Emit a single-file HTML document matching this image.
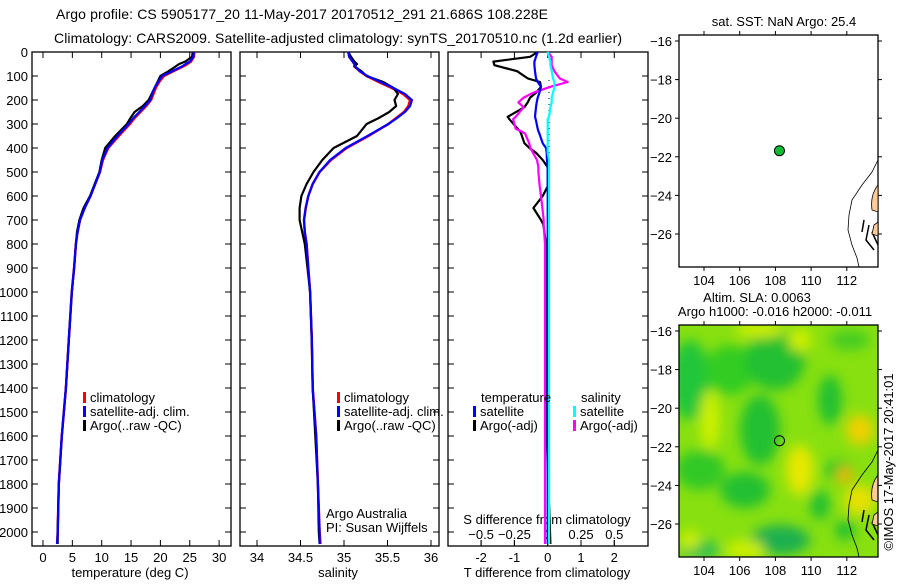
<!DOCTYPE html>
<html><head><meta charset="utf-8"><style>
body{margin:0;background:#fff}
svg{font-family:"Liberation Sans",sans-serif;font-size:13px}
</style></head><body>
<svg id="c" width="900" height="580" viewBox="0 0 900 580">
<defs>
<filter id="blur" x="-50%" y="-50%" width="200%" height="200%"><feGaussianBlur stdDeviation="6"/></filter>
<clipPath id="mclip"><rect x="679" y="325" width="199" height="232"/></clipPath>
</defs>
<text x="56" y="19" textLength="492" style="font-size:14px">Argo profile: CS 5905177_20 11-May-2017 20170512_291 21.686S 108.228E</text>
<text x="54" y="43" textLength="568" style="font-size:14px">Climatology: CARS2009. Satellite-adjusted climatology: synTS_20170510.nc (1.2d earlier)</text>
<g id="g"></g>
</svg>
<script>
// depth grid (m)
const depths=[0,20,40,50,60,80,100,125,150,175,200,225,250,275,300,350,400,450,500,550,600,650,700,750,800,900,1000,1200,1400,1600,1800,2000,2050];
const tempClim=[25.8,25.7,25.2,24.6,23.9,22.2,20.6,19.8,19.2,18.8,18.4,17.6,16.6,15.6,14.8,12.9,11.1,10.2,9.7,8.9,8.1,7.1,6.3,5.9,5.6,5.3,4.9,4.4,3.9,3.2,2.7,2.5,2.4];
const tempSat=[25.7,25.6,25.0,24.3,23.7,22.0,20.3,19.6,19.0,18.6,18.3,17.4,16.4,15.4,14.6,12.7,11.0,10.1,9.7,8.9,8.1,7.1,6.3,5.9,5.6,5.3,4.9,4.4,3.9,3.2,2.7,2.5,2.4];
const tempArgo=[25.5,25.4,24.2,23.2,22.6,21.4,20.0,19.5,19.0,18.5,18.0,17.0,15.6,14.9,14.3,12.3,10.6,10.0,9.6,8.8,8.0,6.9,6.2,5.8,5.6,5.3,4.9,4.4,3.9,3.2,2.7,2.5,2.5];
const salClim=[35.05,35.06,35.10,35.12,35.12,35.18,35.26,35.40,35.55,35.68,35.76,35.74,35.69,35.60,35.51,35.28,35.03,34.85,34.72,34.64,34.59,34.56,34.54,34.55,34.57,34.59,34.61,34.63,34.64,34.68,34.70,34.72,34.73];
const salSat=[35.05,35.06,35.10,35.12,35.13,35.18,35.27,35.42,35.57,35.70,35.78,35.76,35.70,35.61,35.51,35.27,35.02,34.84,34.72,34.64,34.59,34.56,34.54,34.55,34.57,34.59,34.61,34.63,34.64,34.68,34.70,34.72,34.72];
const salArgo=[35.05,35.08,35.12,35.15,35.12,35.20,35.26,35.45,35.57,35.62,35.58,35.60,35.52,35.40,35.26,35.15,34.88,34.75,34.65,34.57,34.51,34.49,34.49,34.52,34.55,34.58,34.61,34.63,34.64,34.67,34.70,34.71,34.72];
const diffDepths=[0,20,40,55,80,110,125,145,170,190,210,230,270,280,320,330,340,380,400,420,450,480,500,560,600,650,700,720,800,1000,1500,2050];
const tDiffArgo=[-0.3,-0.53,-1.63,-1.6,-0.92,-0.6,-0.23,-0.2,-0.35,-0.53,-0.6,-0.7,-1.2,-1.15,-0.9,-0.83,-0.8,-0.7,-0.55,-0.35,-0.15,0,0,0,-0.15,-0.43,-0.2,-0.13,-0.05,-0.03,-0.05,0.08];
const tDiffSat=[-0.3,-0.35,-0.4,-0.4,-0.38,-0.35,-0.3,-0.2,-0.25,-0.3,-0.33,-0.35,-0.38,-0.36,-0.3,-0.28,-0.25,-0.15,-0.05,-0.03,-0.02,0,0,0,0,0,0,0,0,0,0,0];
const sDiffArgo=[0,0.03,0.03,0.03,0.05,0.09,0.15,0.02,-0.11,-0.18,-0.22,-0.18,-0.24,-0.26,-0.24,-0.2,-0.17,-0.14,-0.13,-0.11,-0.08,-0.07,-0.07,-0.06,-0.05,-0.04,-0.03,-0.03,-0.02,-0.02,-0.02,-0.02];
const sDiffSat=[0,0.01,0.02,0.02,0.03,0.04,0.05,0.05,0.04,0.03,0.03,0.02,0.01,0,0,0,0,0,0,0,0.01,0.01,0.01,0.01,0.01,0.01,0.01,0.01,0.01,0.01,0.01,0.01];
const depthTicks=[0,100,200,300,400,500,600,700,800,900,1000,1100,1200,1300,1400,1500,1600,1700,1800,1900,2000];
const tempTicks=[0,5,10,15,20,25,30];
const salTicks=[34,34.5,35,35.5,36];
const tDiffTicks=[-2,-1,0,1,2];
const sDiffTicks=[-0.5,-0.25,0,0.25,0.5];
const lonTicks=[104,106,108,110,112];
const latTicks=[-16,-18,-20,-22,-24,-26];
const argoLon=108.228, argoLat=-21.686;

const NS='http://www.w3.org/2000/svg';
const G=document.getElementById('g');
function mk(tag,attrs,parent){const e=document.createElementNS(NS,tag);for(const k in attrs)e.setAttribute(k,attrs[k]);(parent||G).appendChild(e);return e;}
function txt(x,y,s,anchor,parent){const t=mk('text',{x:x,y:y,'text-anchor':anchor||'start'},parent);t.textContent=s;return t;}
const yD=d=>52+d*0.24;
const xT=v=>43+v*5.87;
const xS=v=>257+(v-34)*87;
const xTD=v=>547.7+v*33.3;
const xSD=v=>547.7+v*133.2;
const xLon=v=>704+(v-104)*17.85;
const yLat=(v,off)=>41+off+(-16-v)*19.3;

function panel(x0,x1,name){const r=mk('rect',{x:x0,y:52,width:x1-x0,height:494,fill:'none',stroke:'#000','stroke-width':1.3});}
panel(32,231,'temperature-panel');panel(240,439,'salinity-panel');panel(448,648,'difference-panel');

depthTicks.forEach(d=>{const y=yD(d);
 [[32,38],[225,231],[240,246],[433,439],[448,454],[642,648]].forEach(p=>mk('line',{x1:p[0],x2:p[1],y1:y,y2:y,stroke:'#000'}));
 const t=txt(28,y+5,String(d),'end');});
function xticks(arr,f,lab,name){arr.forEach(v=>{const x=f(v);mk('line',{x1:x,x2:x,y1:540,y2:546,stroke:'#000'});mk('line',{x1:x,x2:x,y1:52,y2:58,stroke:'#000'});
 if(lab){const t=txt(x,562,String(v),'middle');}});}
xticks(tempTicks,xT,true,'temperature-tick-label');
xticks(salTicks,xS,true,'salinity-tick-label');
xticks(tDiffTicks,xTD,true,'t-diff-tick-label');
sDiffTicks.forEach(v=>{const x=xSD(v);mk('line',{x1:x,x2:x,y1:540,y2:546,stroke:'#000'});
 const t=txt(x,539,String(v).replace('-','\u2212'),'middle');});
let t;
t=txt(130,577,'temperature (deg C)','middle');
t=txt(338,577,'salinity','middle');
t=txt(547,577,'T difference from climatology','middle');
t=txt(547,524,'S difference from climatology','middle');
t=txt(326,518,'Argo Australia');
t=txt(326,532,'PI: Susan Wijffels');

mk('line',{x1:549,x2:549,y1:80,y2:330,stroke:'#000','stroke-dasharray':'1 5'});

function series(ds,vals,f,color,w,name){const pts=ds.map((d,i)=>f(vals[i]).toFixed(1)+','+yD(d).toFixed(1)).join(' ');
 const p=mk('polyline',{points:pts,fill:'none',stroke:color,'stroke-width':w,'stroke-linejoin':'round'});}
series(depths,tempClim,xT,'#f00',2.5,'temp-climatology-line');
series(depths,tempArgo,xT,'#000',2.2,'temp-argo-line');
series(depths,tempSat,xT,'#00f',2.2,'temp-satellite-line');
series(depths,salClim,xS,'#f00',2.5,'sal-climatology-line');
series(depths,salArgo,xS,'#000',2.2,'sal-argo-line');
series(depths,salSat,xS,'#00f',2.2,'sal-satellite-line');
series(diffDepths,tDiffArgo,xTD,'#000',2.2,'t-diff-argo-line');
series(diffDepths,sDiffArgo,xSD,'#f0f',2.2,'s-diff-argo-line');
series(diffDepths,tDiffSat,xTD,'#00f',2.2,'t-diff-satellite-line');
series(diffDepths,sDiffSat,xSD,'#0ff',2.2,'s-diff-satellite-line');

function legend(x,y,color,label,name){mk('rect',{x:x,y:y-10,width:3,height:11,fill:color});const t=txt(x+7,y,label);}
[[83,'climatology','#f00'],[83,'satellite-adj. clim.','#00f'],[83,'Argo(..raw -QC)','#000']].forEach((l,i)=>legend(l[0],402+i*14,l[2],l[1],'temp-legend-entry'));
[[337,'climatology','#f00'],[337,'satellite-adj. clim.','#00f'],[337,'Argo(..raw -QC)','#000']].forEach((l,i)=>legend(l[0],402+i*14,l[2],l[1],'sal-legend-entry'));
t=txt(481,402,'temperature');
t=txt(581,402,'salinity');
legend(473,416,'#00f','satellite','diff-legend-entry');legend(473,430,'#000','Argo(-adj)','diff-legend-entry');
legend(573,416,'#0ff','satellite','diff-legend-entry');legend(573,430,'#f0f','Argo(-adj)','diff-legend-entry');

function coast(off,parent){
 mk('path',{d:`M878 ${160+off} L872 ${172+off} L862 ${185+off} L852 ${200+off} L849 ${215+off} L848 ${230+off} L852 ${245+off} L857 ${258+off} L859 ${267+off}`,fill:'none',stroke:'#000','stroke-width':0.8},parent);
 mk('path',{d:`M878 ${185+off} Q870 ${195+off} 872 ${210+off} L878 ${212+off}Z`,fill:'#fc9','stroke':'#000','stroke-width':0.8},parent);
 mk('path',{d:`M864 ${220+off} L862 ${232+off} M869 ${225+off} L866 ${240+off} L874 ${250+off} M872 ${232+off} L878 ${245+off}`,fill:'none',stroke:'#000','stroke-width':1.5},parent);
 mk('path',{d:`M874 ${225+off} L878 ${222+off} L878 ${236+off} L872 ${234+off}Z`,fill:'#fc9',stroke:'#000','stroke-width':0.8},parent);
}
function mapFrame(off,name){
 const r=mk('rect',{x:679,y:35+off,width:199,height:232,fill:'none',stroke:'#000','stroke-width':1.3});
 lonTicks.forEach(v=>{const x=xLon(v);mk('line',{x1:x,x2:x,y1:35+off,y2:31+off,stroke:'#000'});mk('line',{x1:x,x2:x,y1:267+off,y2:271+off,stroke:'#000'});
  const t=txt(x,285+off,String(v),'middle');});
 latTicks.forEach(v=>{const y=yLat(v,off);mk('line',{x1:675,x2:679,y1:y,y2:y,stroke:'#000'});mk('line',{x1:878,x2:882,y1:y,y2:y,stroke:'#000'});
  const t=txt(672,y+5,String(v).replace('-','\u2212'),'end');});
}
mapFrame(0,'sst-map');
coast(0);
let c=mk('circle',{cx:xLon(argoLon),cy:yLat(argoLat,0),r:5,fill:'#11bb33',stroke:'#000','stroke-width':1});
t=txt(784,26,'sat. SST: NaN Argo: 25.4','middle');
const mg=mk('g',{'clip-path':'url(#mclip)'});
mk('rect',{x:679,y:325,width:199,height:232,fill:'#88e010'},mg);
const bg=mk('g',{filter:'url(#blur)'},mg);
[[690,380,20,40,'#22c63a'],[730,370,25,25,'#33cc22'],[775,360,30,30,'#22c030'],[760,430,20,35,'#22c030'],[700,470,25,20,'#33c828'],[745,490,25,18,'#22c030'],[780,540,30,15,'#1db050'],[700,550,20,10,'#33c050'],[830,400,12,25,'#22c030'],[838,470,15,10,'#33c828'],[820,505,10,15,'#22c030'],[845,530,10,10,'#22c030'],[710,420,10,30,'#ccf000'],[800,470,14,25,'#e6e800'],[860,430,14,15,'#f0d000'],[845,475,8,8,'#f5b000'],[860,500,16,15,'#e8e000'],[745,550,20,10,'#ccee00'],[690,540,10,10,'#ccee00'],[800,340,12,12,'#ccee00'],[850,340,20,10,'#44cc22'],[760,330,25,8,'#ccee00']].forEach(b=>mk('ellipse',{cx:b[0],cy:b[1],rx:b[2],ry:b[3],fill:b[4]},bg));
coast(290,mg);
mapFrame(290,'sla-map');
c=mk('circle',{cx:xLon(argoLon),cy:yLat(argoLat,290),r:5,fill:'none',stroke:'#000','stroke-width':1});
t=txt(757,302,'Altim. SLA: 0.0063','middle');
t=txt(775,316,'Argo h1000: -0.016 h2000: -0.011','middle');
t=txt(0,0,'\u00a9IMOS 17-May-2017 20:41:01','middle');t.setAttribute('transform','translate(893,462) rotate(-90)');
</script>
</body></html>
